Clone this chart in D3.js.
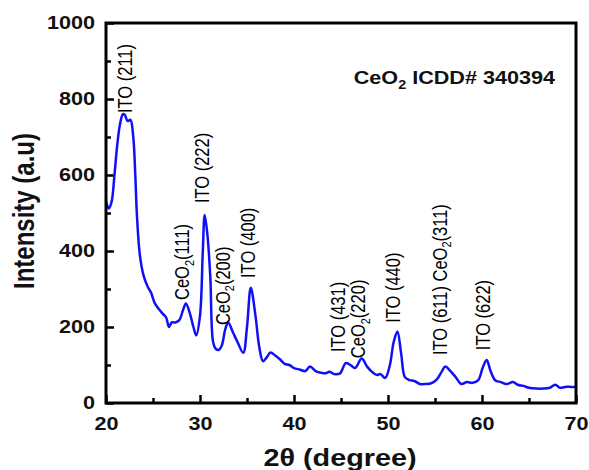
<!DOCTYPE html>
<html>
<head>
<meta charset="utf-8">
<script src="https://cdn.jsdelivr.net/npm/d3@7"></script>
<style>
  body { margin: 0; background: #fff; }
  svg { display: block; font-family: Arial, "Liberation Sans", sans-serif; }
  .tick-label { font-weight: bold; font-size: 18px; fill: #111; }
  .axis-title { font-weight: bold; font-size: 24px; fill: #111; }
  .peak-label { font-size: 16.5px; fill: #000; }
</style>
</head>
<body>
<div id="chart"></div>
<script>
// 2theta (degree) positions
const twoTheta = [20.0, 20.3, 20.6, 20.9, 21.2, 21.5, 21.8, 22.0, 22.3, 22.6, 22.9, 23.1, 23.3, 23.6, 24.0, 24.4, 24.8, 25.2, 25.6, 26.0,
  26.4, 26.7, 27.0, 27.4, 27.8, 28.2, 28.5, 28.9, 29.3, 29.6, 30.0, 30.3, 30.5, 30.8, 31.1, 31.4, 31.7, 32.0, 32.3, 32.7,
  33.0, 33.5, 34.0, 34.6, 35.0, 35.4, 35.9, 36.3, 36.7, 37.1, 37.5, 38.0, 38.5, 39.0, 39.5, 40.0, 40.6, 41.2, 41.7, 42.3,
  42.8, 43.3, 43.8, 44.3, 44.9, 45.5, 46.0, 46.5, 47.2, 47.8, 48.3, 48.8, 49.2, 49.7, 50.2, 50.6, 51.0, 51.4, 51.8, 52.3,
  52.8, 53.4, 54.0, 54.6, 55.2, 55.7, 56.1, 56.6, 57.2, 57.8, 58.4, 59.0, 59.6, 60.1, 60.5, 60.9, 61.4, 62.0, 62.6, 63.3,
  63.8, 64.4, 65.0, 65.8, 66.5, 67.2, 67.8, 68.3, 69.0, 69.5, 70.0];

// intensity (a.u) at each 2theta
const intensity = [530, 512, 530, 600, 680, 735, 760, 758, 742, 745, 700, 610, 490, 390, 335, 308, 290, 262, 248, 236,
  225, 200, 212, 212, 218, 245, 262, 238, 200, 178, 230, 400, 495, 440, 330, 160, 142, 140, 150, 195,
  212, 186, 160, 132, 200, 303, 230, 148, 110, 120, 133, 125, 115, 103, 100, 92, 88, 84, 96, 84,
  80, 78, 82, 76, 78, 105, 100, 92, 117, 95, 82, 74, 76, 66, 100, 160, 188, 130, 68, 60,
  58, 50, 50, 52, 62, 82, 96, 85, 68, 50, 55, 53, 60, 95, 113, 85, 60, 55, 50, 55,
  48, 45, 40, 38, 38, 40, 48, 40, 43, 42, 42];

const xTicks = [20, 30, 40, 50, 60, 70];
const xMinorTicks = [25, 35, 45, 55, 65];
const yTicks = [0, 200, 400, 600, 800, 1000];
const yMinorTicks = [100, 300, 500, 700, 900];

// peak labels: text, 2theta and the intensity where the label starts
const peakNames = ["ITO (211)", "CeO2(111)", "ITO (222)", "CeO2(200)", "ITO (400)", "ITO (431)", "CeO2(220)", "ITO (440)", "ITO (611) CeO2(311)", "ITO (622)"];
const peakX = [22.0, 28.1, 30.2, 32.4, 35.1, 44.7, 46.8, 50.5, 55.5, 60.1];
const peakY = [763, 271, 526, 205, 329, 134, 118, 211, 126, 139];

const margin = {top: 23, right: 13, bottom: 67, left: 106};
const width = 589 - margin.left - margin.right;
const height = 470 - margin.top - margin.bottom;
const stretch = 1.2; // text in the picture is a bit wider than plain Arial

const svg = d3.select('#chart').append('svg')
    .attr('width', 589)
    .attr('height', 470);

const g = svg.append('g')
    .attr('transform', `translate(${margin.left},${margin.top})`);

const x = d3.scaleLinear().domain([20, 70]).range([0, width]);
const y = d3.scaleLinear().domain([0, 1000]).range([height, 0]);

// axes, ticks pointing inward
const xAxis = g.append('g')
    .attr('transform', `translate(0,${height})`)
    .call(d3.axisBottom(x).tickValues(xTicks).tickSize(-8).tickPadding(14).tickFormat(d3.format('d')));
xAxis.selectAll('.tick text')
    .attr('class', 'tick-label')
    .attr('dy', '0.71em')
    .attr('transform', `scale(${stretch},1)`)
    .attr('y', 14)
    .attr('x', 0);
g.append('g')
    .attr('transform', `translate(0,${height})`)
    .call(d3.axisBottom(x).tickValues(xMinorTicks).tickSize(-5).tickFormat(''));

const yAxis = g.append('g')
    .call(d3.axisLeft(y).tickValues(yTicks).tickSize(-8).tickFormat(d3.format('d')));
yAxis.selectAll('.tick text')
    .attr('class', 'tick-label')
    .attr('x', -11 / stretch)
    .attr('transform', `scale(${stretch},1)`);
g.append('g')
    .call(d3.axisLeft(y).tickValues(yMinorTicks).tickSize(-5).tickFormat(''));

g.selectAll('.domain').remove();
g.selectAll('.tick line').attr('stroke', '#000').attr('stroke-width', 2.5);

// data line
const points = twoTheta.map((t, i) => ({t: t, v: intensity[i]}));
const line = d3.line()
    .x(d => x(d.t))
    .y(d => y(d.v))
    .curve(d3.curveCatmullRom.alpha(0.5));

g.append('path')
    .datum(points)
    .attr('fill', 'none')
    .attr('stroke', '#1010f8')
    .attr('stroke-width', 2.5)
    .attr('stroke-linejoin', 'round')
    .attr('d', line);

// frame
g.append('rect')
    .attr('x', 0).attr('y', 0)
    .attr('width', width).attr('height', height)
    .attr('fill', 'none')
    .attr('stroke', '#000')
    .attr('stroke-width', 3);

// text with a lowered subscript 2 for CeO2
function addSubText(sel, txt, subSize, drop){
  const parts = txt.split('CeO2');
  parts.forEach((p, i) => {
    if (i > 0) {
      sel.append('tspan').text('CeO');
      sel.append('tspan').attr('dy', drop).attr('font-size', subSize).text('2');
      sel.append('tspan').attr('dy', -drop).text(p.length ? p : '');
    } else if (p.length) {
      sel.append('tspan').text(p);
    }
  });
}

peakNames.forEach((name, i) => {
  const t = g.append('text')
      .attr('class', 'peak-label')
      .attr('transform', `translate(${x(peakX[i])},${y(peakY[i])}) rotate(-90) scale(1,${stretch})`)
      .attr('dy', '0.35em');
  addSubText(t, name, '11px', 4);
});

// ICDD note
const note = g.append('text')
    .attr('transform', `translate(${x(70) - 21},${y(840)}) scale(${stretch},1)`)
    .attr('text-anchor', 'end')
    .attr('font-weight', 'bold')
    .attr('font-size', '18px')
    .attr('fill', '#111');
addSubText(note, 'CeO2 ICDD# 340394', '12px', 5);

// axis titles
svg.append('text')
    .attr('class', 'axis-title')
    .attr('text-anchor', 'middle')
    .attr('font-size', '26px')
    .attr('transform', `translate(34,${margin.top + height / 2 - 2}) rotate(-90) scale(1,${stretch})`)
    .text('Intensity (a.u)');

svg.append('text')
    .attr('class', 'axis-title')
    .attr('text-anchor', 'middle')
    .attr('transform', `translate(${margin.left + width / 2 - 1},466) scale(${stretch},1)`)
    .text('2θ (degree)');
</script>
</body>
</html>
